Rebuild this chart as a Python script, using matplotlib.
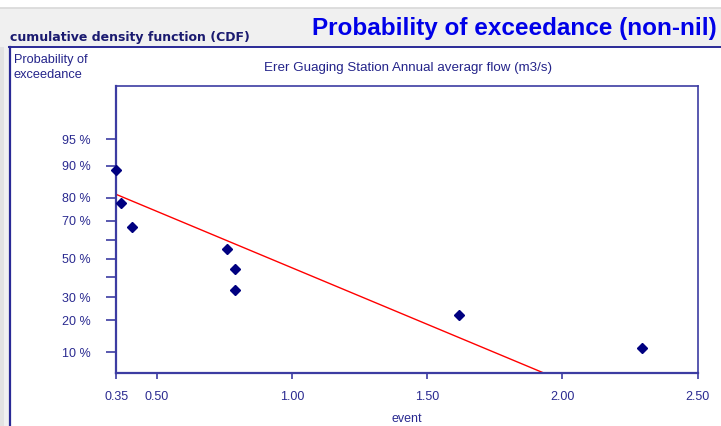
import numpy as np
import matplotlib
matplotlib.use('Agg')
import matplotlib.pyplot as plt
from matplotlib.patches import Rectangle
from matplotlib.lines import Line2D
from statistics import NormalDist

# ---- data ----
flow = [0.35, 0.366, 0.408, 0.758, 0.788, 0.788, 1.618, 2.293]
exceedance = [0.889, 0.778, 0.667, 0.556, 0.444, 0.333, 0.222, 0.111]
ytick_vals = [0.10, 0.20, 0.30, 0.40, 0.50, 0.60, 0.70, 0.80, 0.90, 0.95]
ytick_labels = ['10 %', '20 %', '30 %', '', '50 %', '', '70 %', '80 %', '90 %', '95 %']
xtick_vals = [0.35, 0.50, 1.00, 1.50, 2.00, 2.50]
xtick_labels = ['0.35', '0.50', '1.00', '1.50', '2.00', '2.50']
header_left = 'cumulative density function (CDF)'
header_title = 'Probability of exceedance (non-nil)'
subtitle = 'Erer Guaging Station Annual averagr flow (m3/s)'
ylabel_text = 'Probability of\nexceedance'
xlabel_text = 'event'

plt.rcParams['font.family'] = ['Liberation Sans', 'DejaVu Sans']

W, H = 721, 426
fig = plt.figure(figsize=(W / 100, H / 100), dpi=100)
fig.patch.set_facecolor('white')

def fx(px):
    return px / W

def fy(py):
    return 1 - py / H

# header band and left strip
fig.add_artist(Rectangle((0, fy(47)), 1, fy(8) - fy(47), transform=fig.transFigure,
                         facecolor='#f0f0f0', edgecolor='none', zorder=0))
fig.add_artist(Line2D([0, 1], [fy(7.5), fy(7.5)], transform=fig.transFigure,
                      color='#d8d8d8', lw=1.2, zorder=1))
fig.add_artist(Rectangle((0, 0), fx(9), fy(47), transform=fig.transFigure,
                         facecolor='#f0f0f0', edgecolor='none', zorder=0))
fig.add_artist(Rectangle((0, 0), fx(4), fy(47), transform=fig.transFigure,
                         facecolor='#e2e2e2', edgecolor='none', zorder=0))
navy = '#2a2a96'
fig.add_artist(Line2D([fx(9), 1], [fy(47), fy(47)], transform=fig.transFigure,
                      color=navy, lw=1.4, zorder=2))
fig.add_artist(Line2D([fx(9.5), fx(9.5)], [0, fy(47)], transform=fig.transFigure,
                      color=navy, lw=1.6, zorder=2))

fig.text(fx(10), fy(40.5), header_left, fontsize=9.0, fontweight='bold',
         family=['DejaVu Sans'], color='#1a1a70', va='baseline', ha='left')
fig.text(fx(312), fy(35), header_title, fontsize=17.5, fontweight='bold',
         color='#0000e8', va='baseline', ha='left')
fig.text(fx(14), fy(54), ylabel_text, fontsize=9.2, color='#24248a',
         va='top', ha='left', linespacing=1.3)
fig.text(fx(408.5), fy(71.5), subtitle, fontsize=9.6, color='#24248a',
         va='baseline', ha='center')

# normal probability scale
nd = NormalDist()
fwd = np.vectorize(lambda p: nd.inv_cdf(min(max(float(p), 1e-9), 1 - 1e-9)), otypes=[float])
inv = np.vectorize(lambda z: nd.cdf(float(z)), otypes=[float])

ax = fig.add_axes([fx(116.3), fy(373), fx(697.7) - fx(116.3), fy(86) - fy(373)])
ax.set_yscale('function', functions=(fwd, inv))
ax.set_xlim(0.35, 2.5)
ax.set_ylim(0.0587, 0.9912)

axis_col = '#3c3ca2'
label_col = '#2a2a90'
for s in ax.spines.values():
    s.set_color(axis_col)
    s.set_linewidth(1.2)
ax.spines['left'].set_linewidth(1.6)
ax.spines['bottom'].set_linewidth(1.6)

ax.set_yticks(ytick_vals)
ax.set_yticklabels(ytick_labels)
ax.yaxis.set_minor_locator(matplotlib.ticker.NullLocator())
ax.set_xticks(xtick_vals)
ax.set_xticklabels(xtick_labels)
ax.tick_params(axis='y', length=7.4, width=1.2, color=axis_col, labelcolor=label_col,
               labelsize=9, pad=11)
ax.tick_params(axis='x', length=4.3, width=1.2, color=axis_col, labelcolor=label_col,
               labelsize=9, pad=9)
ax.set_xlabel(xlabel_text, fontsize=9, color=label_col, labelpad=7)

# fitted normal line
mu = float(np.mean(flow))
sigma = float(np.std(flow))
line_x = np.array([0.35, 2.5])
line_p = [1 - nd.cdf((x - mu) / sigma) for x in line_x]
ax.plot(line_x, line_p, color='#ff0000', lw=1.0, zorder=2)

ax.plot(flow, exceedance, linestyle='none', marker='D', markersize=4.8,
        color='#000080', zorder=3, clip_on=False)

fig.savefig('out.png', dpi=100)
